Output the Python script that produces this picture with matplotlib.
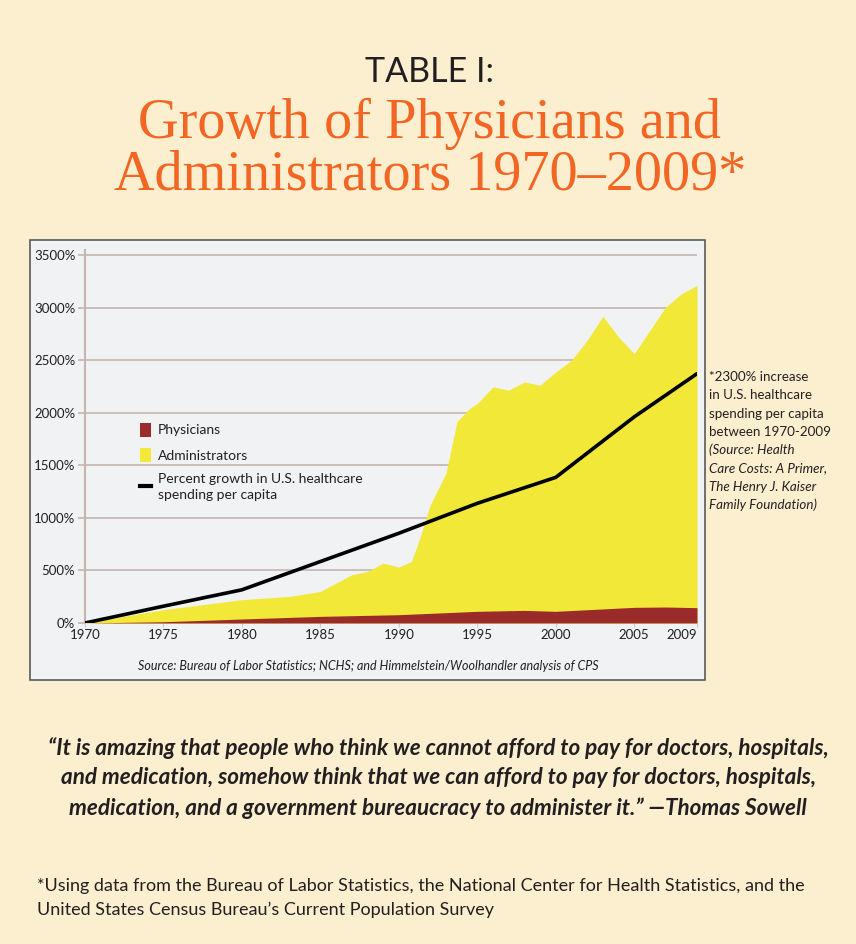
import matplotlib
matplotlib.use("Agg")
import matplotlib.pyplot as plt
from matplotlib.patches import Rectangle, Patch
from matplotlib.lines import Line2D

# data (percent growth since 1970)
spend_years = [1970, 1975, 1980, 1985, 1990, 1995, 2000, 2005, 2009]
spend_pct = [0, 160, 316, 585, 854, 1139, 1386, 1962, 2373]

admin_years = [1970, 1975, 1980, 1983, 1985, 1986, 1987, 1988, 1989, 1990,
               1990.8, 1991.3, 1992, 1993, 1993.7, 1994.5, 1995, 1996, 1997,
               1998, 1999, 2000, 2001, 2002, 2003, 2004, 2005, 2006, 2007,
               2008, 2009]
admin_pct = [0, 127, 222, 253, 300, 380, 459, 490, 570, 532,
             585, 791, 1123, 1424, 1915, 2041, 2089, 2247, 2215,
             2294, 2263, 2389, 2500, 2690, 2918, 2722, 2563, 2785, 3006,
             3133, 3212]

phys_years = [1970, 1975, 1980, 1985, 1990, 1995, 1998, 2000, 2005, 2007, 2009]
phys_pct = [0, 12, 38, 63, 79, 111, 120, 111, 149, 152, 146]

xticks = [1970, 1975, 1980, 1985, 1990, 1995, 2000, 2005, 2009]
yticks = [0, 500, 1000, 1500, 2000, 2500, 3000, 3500]

CREAM = "#fbefd0"
ORANGE = "#f26522"
YELLOW = "#f2e837"
RED = "#992b2b"
GRID = "#c4b5b2"
TEXT = "#231f20"

fig = plt.figure(figsize=(8.56, 9.44), dpi=100, facecolor=CREAM)

# chart panel behind the axes
panel = Rectangle((30 / 856, 1 - 680 / 944), 675 / 856, 440 / 944,
                  transform=fig.transFigure, facecolor="#f1f2f3",
                  edgecolor="#5a5a5a", lw=1.2, zorder=-5)
fig.patches.append(panel)

ax = fig.add_axes([85 / 856, 1 - 623 / 944, 612 / 856, 373 / 944])
ax.set_zorder(2)
ax.set_facecolor("#f1f2f3")
ax.fill_between(admin_years, admin_pct, color=YELLOW, lw=0, zorder=2)
ax.fill_between(phys_years, phys_pct, color=RED, lw=0, zorder=3)
ax.plot(spend_years, spend_pct, color="black", lw=2.6, zorder=4,
        solid_capstyle="round")

ax.set_xlim(1970, 2009)
ax.set_ylim(0, 3550)
ax.set_yticks(yticks)
ax.set_yticklabels([f"{v}%" for v in yticks])
ax.set_xticks(xticks)
ax.set_xticklabels([str(x) for x in xticks])
ax.grid(axis="y", color=GRID, lw=1.2, zorder=1)
ax.set_axisbelow(True)
for s in ["top", "right", "bottom"]:
    ax.spines[s].set_visible(False)
ax.spines["left"].set_color(GRID)
ax.spines["left"].set_linewidth(1.5)
ax.tick_params(axis="y", length=5, color=GRID, width=1.2, pad=2,
               labelsize=9.5, labelcolor=TEXT)
ax.tick_params(axis="x", length=3, color="#cccccc", pad=1,
               labelsize=9.5, labelcolor=TEXT)
for lab in ax.get_xticklabels() + ax.get_yticklabels():
    lab.set_fontfamily("Lato")
ax.get_xticklabels()[-1].set_horizontalalignment("right")

handles = [Patch(facecolor=RED, edgecolor="none"),
           Patch(facecolor=YELLOW, edgecolor="none"),
           Line2D([0], [0], color="black", lw=3)]
labels = ["Physicians", "Administrators",
          "Percent growth in U.S. healthcare\nspending per capita"]
leg = ax.legend(handles, labels, loc="upper left",
                bbox_to_anchor=(127 / 856, 1 - 410 / 944),
                bbox_transform=fig.transFigure, frameon=False,
                prop={"family": "Lato", "size": 10}, handlelength=0.8,
                handleheight=1.2, handletextpad=0.5, labelspacing=0.8)
for t in leg.get_texts():
    t.set_color(TEXT)
    t.set_linespacing(1.4)

fig.text(368 / 856, 1 - 666 / 944,
         "Source: Bureau of Labor Statistics; NCHS; and Himmelstein/Woolhandler analysis of CPS",
         ha="center", va="center", fontsize=9, style="italic",
         family="Lato", color=TEXT)

# titles
fig.text(0.502, 1 - 72 / 944, "TABLE I:", ha="center", va="center",
         fontsize=24.5, family="Lato", color=TEXT)
fig.text(0.502, 1 - 124 / 944, "Growth of Physicians and", ha="center",
         va="center", fontsize=40.5, family="Liberation Serif", color=ORANGE)
fig.text(0.502, 1 - 176 / 944, "Administrators 1970\u20132009*", ha="center",
         va="center", fontsize=40.5, family="Liberation Serif", color=ORANGE)

# right-hand note
note = ["*2300% increase", "in U.S. healthcare", "spending per capita",
        "between 1970-2009"]
note_it = ["(Source: Health", "Care Costs: A Primer,",
           "The Henry J. Kaiser", "Family Foundation)"]
y0 = 377
for i, line in enumerate(note + note_it):
    fig.text(709 / 856, 1 - (y0 + i * 18.3) / 944, line, ha="left",
             va="center", fontsize=9.6, family="Lato", color=TEXT,
             style="italic" if i >= len(note) else "normal")

quote = ["\u201cIt is amazing that people who think we cannot afford to pay for doctors, hospitals,",
         "and medication, somehow think that we can afford to pay for doctors, hospitals,",
         "medication, and a government bureaucracy to administer it.\u201d \u2014Thomas Sowell"]
for i, line in enumerate(quote):
    fig.text(0.512, 1 - (748 + i * 30) / 944, line, ha="center", va="center",
             fontsize=16.2, family="Lato", style="italic", weight="bold",
             color=TEXT)

foot = ["*Using data from the Bureau of Labor Statistics, the National Center for Health Statistics, and the",
        "United States Census Bureau\u2019s Current Population Survey"]
for i, line in enumerate(foot):
    fig.text(37 / 856, 1 - (886 + i * 24) / 944, line, ha="left",
             va="center", fontsize=13, family="Lato", color=TEXT)

fig.savefig("out.png", dpi=100, facecolor=CREAM)
